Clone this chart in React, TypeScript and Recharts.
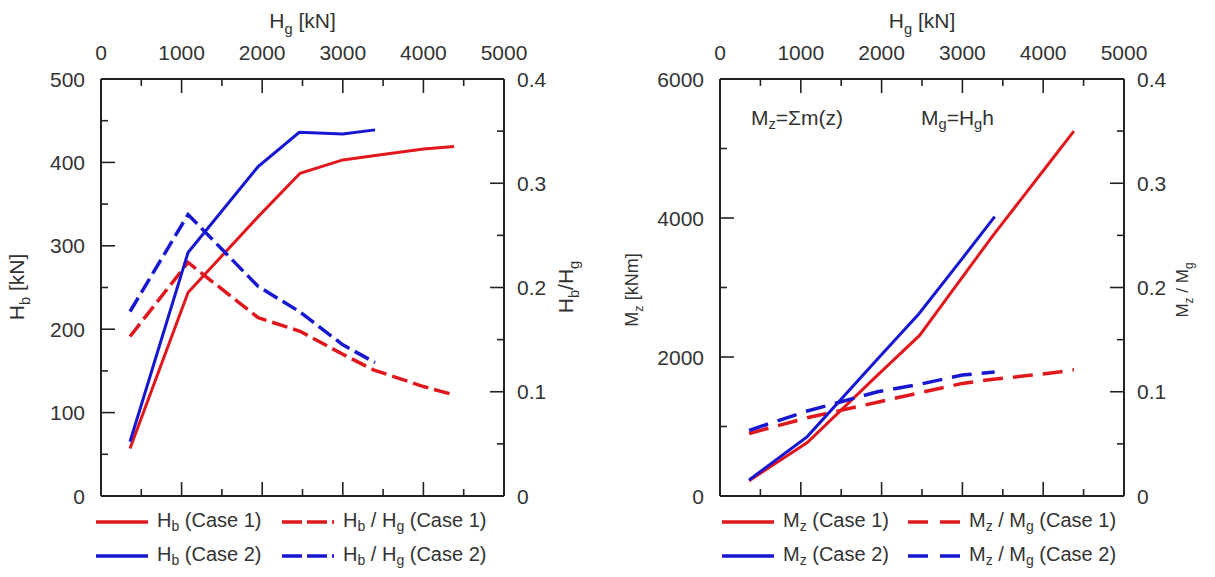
import React from "react";
import { LineChart, Line, XAxis, YAxis, Legend, Label, ReferenceLine } from "recharts";

// ── values ──────────────────────────────────────────────────────────────────
const hgCase1 = [360, 1080, 1950, 2470, 3000, 3380, 4000, 4380];
const hgCase2 = [360, 1080, 1950, 2460, 3000, 3400];

const hbCase1 = [57, 244, 335, 387, 403, 408, 416, 419];
const hbCase2 = [65, 292, 395, 436, 434, 439];
const hbRatioCase1 = [0.153, 0.224, 0.171, 0.158, 0.136, 0.121, 0.105, 0.097];
const hbRatioCase2 = [0.177, 0.27, 0.201, 0.177, 0.145, 0.128];

const mzCase1 = [220, 770, 1740, 2310, 3150, 3750, 4680, 5250];
const mzCase2 = [230, 855, 1970, 2620, 3420, 4020];
const mzRatioCase1 = [0.06, 0.075, 0.09, 0.099, 0.108, 0.112, 0.117, 0.121];
const mzRatioCase2 = [0.063, 0.0815, 0.1, 0.107, 0.116, 0.119];

// ── ticks ───────────────────────────────────────────────────────────────────
const hgTicks = [0, 500, 1000, 1500, 2000, 2500, 3000, 3500, 4000, 4500, 5000];
const hgMajors = [0, 1000, 2000, 3000, 4000, 5000];
const hbTicks = [0, 50, 100, 150, 200, 250, 300, 350, 400, 450, 500];
const hbMajors = [0, 100, 200, 300, 400, 500];
const mzTicks = [0, 1000, 2000, 3000, 4000, 5000, 6000];
const mzMajors = [0, 2000, 4000, 6000];
const ratioTicks = [0, 0.05, 0.1, 0.15, 0.2, 0.25, 0.3, 0.35, 0.4];
const ratioMajors = [0, 0.1, 0.2, 0.3, 0.4];

const hbLegendOrder = ["H_b (Case 1)", "H_b / H_g (Case 1)", "H_b (Case 2)", "H_b / H_g (Case 2)"];
const mzLegendOrder = ["M_z (Case 1)", "M_z / M_g (Case 1)", "M_z (Case 2)", "M_z / M_g (Case 2)"];

const RED = "#e0181e";
const BLUE = "#1717d2";
const INK = "#333";
const FONT = "'Liberation Sans', Arial, sans-serif";

// plot box in px (both panels) and inward tick lengths in px
const PLOT_W = 403;
const PLOT_H = 417;
const TICK_MAJOR = 14;
const TICK_MINOR = 7;

const rows = (xs: number[], ys: number[]) => xs.map((hg, i) => ({ hg, v: ys[i] }));

// "H_b" -> H with subscript b
function splitRich(s: string) {
  return s.split(/(_\w)/).filter((p) => p.length > 0);
}

function RichSvg({ text, x, y, size, rotate = false }: any) {
  const parts = splitRich(text);
  let prevSub = false;
  return (
    <text
      x={x}
      y={y}
      fontSize={size}
      fontFamily={FONT}
      fill={INK}
      textAnchor="middle"
      transform={rotate ? `rotate(-90 ${x} ${y})` : undefined}
    >
      {parts.map((p, i) => {
        const isSub = p.startsWith("_");
        const dy = isSub ? size * 0.3 : prevSub ? -size * 0.3 : 0;
        prevSub = isSub;
        return (
          <tspan key={i} dy={dy} fontSize={isSub ? size * 0.7 : size}>
            {isSub ? p.slice(1) : p}
          </tspan>
        );
      })}
    </text>
  );
}

function RichHtml({ text }: { text: string }) {
  return (
    <>
      {splitRich(text).map((p, i) =>
        p.startsWith("_") ? (
          <sub key={i} style={{ fontSize: "0.7em", verticalAlign: "-0.3em" }}>
            {p.slice(1)}
          </sub>
        ) : (
          <span key={i}>{p}</span>
        )
      )}
    </>
  );
}

// labels only on majors; (x, y) sits on the axis line (tickSize 0, tickMargin 0)
function makeTick(side: string, majors: number[]) {
  return (props: any) => {
    const x = Number(props.x);
    const y = Number(props.y);
    const v = props.payload.value;
    if (!majors.includes(v)) return <g />;
    let tx = x;
    let ty = y;
    let anchor = "middle";
    if (side === "left") {
      tx = x - 16;
      anchor = "end";
    } else if (side === "right") {
      tx = x + 13;
      anchor = "start";
    } else {
      ty = y - 27;
    }
    return (
      <text x={tx} y={ty} dy="0.36em" textAnchor={anchor} fontSize={21} fontFamily={FONT} fill={INK}>
        {String(v)}
      </text>
    );
  };
}

// inward tick marks on all four sides of the box, drawn through the chart scales
function boxTicks(
  xTicks: number[],
  xMajors: number[],
  xMax: number,
  yTicks: number[],
  yMajors: number[],
  yMax: number,
  rTicks: number[],
  rMajors: number[],
  rMax: number
) {
  const tickStroke = { stroke: "#222", strokeWidth: 1.6, ifOverflow: "visible" as const };
  const out: any[] = [];
  xTicks.forEach((v) => {
    const dy = ((xMajors.includes(v) ? TICK_MAJOR : TICK_MINOR) / PLOT_H) * yMax;
    out.push(
      <ReferenceLine key={"b" + v} xAxisId="top" yAxisId="left" {...tickStroke}
        segment={[{ x: v, y: 0 }, { x: v, y: dy }]} />,
      <ReferenceLine key={"t" + v} xAxisId="top" yAxisId="left" {...tickStroke}
        segment={[{ x: v, y: yMax }, { x: v, y: yMax - dy }]} />
    );
  });
  yTicks.forEach((v) => {
    const dx = ((yMajors.includes(v) ? TICK_MAJOR : TICK_MINOR) / PLOT_W) * xMax;
    out.push(
      <ReferenceLine key={"l" + v} xAxisId="top" yAxisId="left" {...tickStroke}
        segment={[{ x: 0, y: v }, { x: dx, y: v }]} />
    );
  });
  rTicks.forEach((v) => {
    const dx = ((rMajors.includes(v) ? TICK_MAJOR : TICK_MINOR) / PLOT_W) * xMax;
    out.push(
      <ReferenceLine key={"r" + v} xAxisId="top" yAxisId="right" {...tickStroke}
        segment={[{ x: xMax, y: v }, { x: xMax - dx, y: v }]} />
    );
  });
  return out;
}

function LegendGrid({ payload, dash, order }: any) {
  const items = [...(payload || [])].sort(
    (a: any, b: any) => order.indexOf(a.value) - order.indexOf(b.value)
  );
  return (
    <div
      style={{
        display: "grid",
        gridTemplateColumns: "186px 220px",
        rowGap: 6,
        fontFamily: FONT,
        fontSize: 20,
        color: INK,
      }}
    >
      {items.map((entry: any) => (
        <div key={entry.value} style={{ display: "flex", alignItems: "center", height: 28 }}>
          <svg width={52} height={8}>
            <line
              x1={0}
              y1={4}
              x2={52}
              y2={4}
              stroke={entry.color}
              strokeWidth={3.5}
              strokeDasharray={String(entry.value).includes("/") ? dash : undefined}
            />
          </svg>
          <span style={{ marginLeft: 9, whiteSpace: "nowrap" }}>
            <RichHtml text={String(entry.value)} />
          </span>
        </div>
      ))}
    </div>
  );
}

const axisLine = { stroke: "#222", strokeWidth: 2 };

function HbChart() {
  return (
    <LineChart
      width={610}
      height={577}
      margin={{ top: 39, right: 46, bottom: 80, left: 41 }}
    >
      <XAxis
        xAxisId="top"
        orientation="top"
        type="number"
        dataKey="hg"
        domain={[0, 5000]}
        ticks={hgTicks}
        interval={0}
        height={40}
        tickSize={0}
        tickMargin={0}
        tickLine={false}
        axisLine={axisLine}
        tick={makeTick("top", hgMajors)}
      >
        <Label
          content={(p: any) => (
            <RichSvg text="H_g [kN]" x={p.viewBox.x + p.viewBox.width / 2} y={28} size={21} />
          )}
        />
      </XAxis>
      <XAxis
        xAxisId="bottom"
        orientation="bottom"
        type="number"
        dataKey="hg"
        domain={[0, 5000]}
        ticks={hgTicks}
        interval={0}
        height={1}
        tickLine={false}
        tick={false}
        axisLine={axisLine}
      />
      <YAxis
        yAxisId="left"
        type="number"
        domain={[0, 500]}
        ticks={hbTicks}
        interval={0}
        width={60}
        tickSize={0}
        tickMargin={0}
        tickLine={false}
        axisLine={axisLine}
        tick={makeTick("left", hbMajors)}
      >
        <Label
          content={() => <RichSvg text="H_b [kN]" x={24} y={287} size={21} rotate />}
        />
      </YAxis>
      <YAxis
        yAxisId="right"
        orientation="right"
        type="number"
        domain={[0, 0.4]}
        ticks={ratioTicks}
        interval={0}
        width={60}
        tickSize={0}
        tickMargin={0}
        tickLine={false}
        axisLine={axisLine}
        tick={makeTick("right", ratioMajors)}
      >
        <Label
          content={() => <RichSvg text="H_b/H_g" x={573} y={287} size={21} rotate />}
        />
      </YAxis>
      {boxTicks(hgTicks, hgMajors, 5000, hbTicks, hbMajors, 500, ratioTicks, ratioMajors, 0.4)}
      <Line
        xAxisId="top"
        yAxisId="left"
        data={rows(hgCase1, hbCase1)}
        dataKey="v"
        name="H_b (Case 1)"
        stroke={RED}
        strokeWidth={3}
        dot={false}
        isAnimationActive={false}
      />
      <Line
        xAxisId="top"
        yAxisId="right"
        data={rows(hgCase1, hbRatioCase1)}
        dataKey="v"
        name="H_b / H_g (Case 1)"
        stroke={RED}
        strokeWidth={3.5}
        strokeDasharray="16 6"
        dot={false}
        isAnimationActive={false}
      />
      <Line
        xAxisId="top"
        yAxisId="left"
        data={rows(hgCase2, hbCase2)}
        dataKey="v"
        name="H_b (Case 2)"
        stroke={BLUE}
        strokeWidth={3}
        dot={false}
        isAnimationActive={false}
      />
      <Line
        xAxisId="top"
        yAxisId="right"
        data={rows(hgCase2, hbRatioCase2)}
        dataKey="v"
        name="H_b / H_g (Case 2)"
        stroke={BLUE}
        strokeWidth={3.5}
        strokeDasharray="16 6"
        dot={false}
        isAnimationActive={false}
      />
      <Legend
        layout="horizontal"
        verticalAlign="middle"
        align="center"
        wrapperStyle={{ left: 96, top: 508, width: 420 }}
        content={(p: any) => (
          <LegendGrid payload={p.payload} dash="20 5" order={hbLegendOrder} />
        )}
      />
    </LineChart>
  );
}

function MzChart() {
  return (
    <LineChart
      width={605}
      height={577}
      margin={{ top: 39, right: 31, bottom: 80, left: 50 }}
    >
      <XAxis
        xAxisId="top"
        orientation="top"
        type="number"
        dataKey="hg"
        domain={[0, 5000]}
        ticks={hgTicks}
        interval={0}
        height={40}
        tickSize={0}
        tickMargin={0}
        tickLine={false}
        axisLine={axisLine}
        tick={makeTick("top", hgMajors)}
      >
        <Label
          content={(p: any) => (
            <RichSvg text="H_g [kN]" x={p.viewBox.x + p.viewBox.width / 2} y={28} size={21} />
          )}
        />
      </XAxis>
      <XAxis
        xAxisId="bottom"
        orientation="bottom"
        type="number"
        dataKey="hg"
        domain={[0, 5000]}
        ticks={hgTicks}
        interval={0}
        height={1}
        tickLine={false}
        tick={false}
        axisLine={axisLine}
      />
      <YAxis
        yAxisId="left"
        type="number"
        domain={[0, 6000]}
        ticks={mzTicks}
        interval={0}
        width={60}
        tickSize={0}
        tickMargin={0}
        tickLine={false}
        axisLine={axisLine}
        tick={makeTick("left", mzMajors)}
      >
        <Label
          content={() => <RichSvg text="M_z [kNm]" x={28} y={290} size={18} rotate />}
        />
      </YAxis>
      <YAxis
        yAxisId="right"
        orientation="right"
        type="number"
        domain={[0, 0.4]}
        ticks={ratioTicks}
        interval={0}
        width={60}
        tickSize={0}
        tickMargin={0}
        tickLine={false}
        axisLine={axisLine}
        tick={makeTick("right", ratioMajors)}
      >
        <Label
          content={() => <RichSvg text="M_z / M_g" x={578} y={290} size={17} rotate />}
        />
      </YAxis>
      {boxTicks(hgTicks, hgMajors, 5000, mzTicks, mzMajors, 6000, ratioTicks, ratioMajors, 0.4)}
      <Line
        xAxisId="top"
        yAxisId="left"
        data={rows(hgCase1, mzCase1)}
        dataKey="v"
        name="M_z (Case 1)"
        stroke={RED}
        strokeWidth={3}
        dot={false}
        isAnimationActive={false}
      />
      <Line
        xAxisId="top"
        yAxisId="right"
        data={rows(hgCase1, mzRatioCase1)}
        dataKey="v"
        name="M_z / M_g (Case 1)"
        stroke={RED}
        strokeWidth={3.5}
        strokeDasharray="20 10"
        dot={false}
        isAnimationActive={false}
      />
      <Line
        xAxisId="top"
        yAxisId="left"
        data={rows(hgCase2, mzCase2)}
        dataKey="v"
        name="M_z (Case 2)"
        stroke={BLUE}
        strokeWidth={3}
        dot={false}
        isAnimationActive={false}
      />
      <Line
        xAxisId="top"
        yAxisId="right"
        data={rows(hgCase2, mzRatioCase2)}
        dataKey="v"
        name="M_z / M_g (Case 2)"
        stroke={BLUE}
        strokeWidth={3.5}
        strokeDasharray="20 10"
        dot={false}
        isAnimationActive={false}
      />
      <Legend
        layout="horizontal"
        verticalAlign="middle"
        align="center"
        wrapperStyle={{ left: 112, top: 508, width: 420 }}
        content={(p: any) => (
          <LegendGrid payload={p.payload} dash="20 12" order={mzLegendOrder} />
        )}
      />
    </LineChart>
  );
}

export default function App() {
  return (
    <div
      style={{
        position: "absolute",
        left: 0,
        top: 0,
        width: 1215,
        height: 577,
        background: "#fff",
        fontFamily: FONT,
      }}
    >
      <div style={{ position: "absolute", left: 0, top: 0 }}>
        <HbChart />
      </div>
      <div style={{ position: "absolute", left: 610, top: 0 }}>
        <MzChart />
        <div
          style={{
            position: "absolute",
            left: 141,
            top: 105,
            fontSize: 21,
            lineHeight: "26px",
            color: INK,
            whiteSpace: "nowrap",
          }}
        >
          <RichHtml text="M_z=Σm(z)" />
        </div>
        <div
          style={{
            position: "absolute",
            left: 311,
            top: 105,
            fontSize: 21,
            lineHeight: "26px",
            color: INK,
            whiteSpace: "nowrap",
          }}
        >
          <RichHtml text="M_g=H_gh" />
        </div>
      </div>
    </div>
  );
}
